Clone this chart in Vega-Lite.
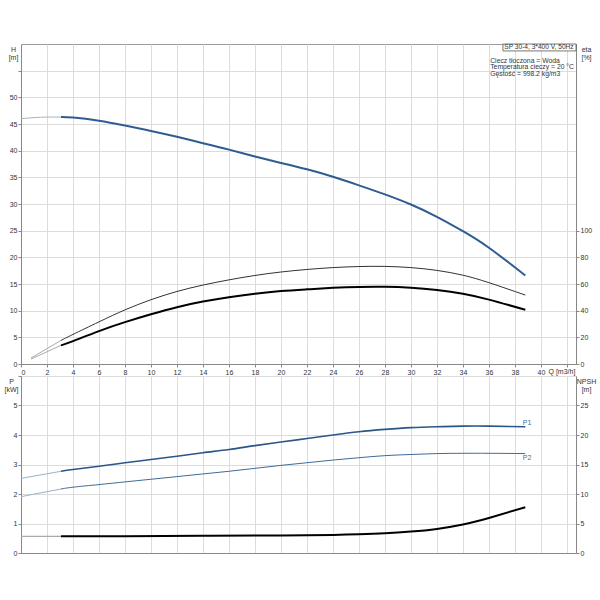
{
  "$schema": "https://vega.github.io/schema/vega-lite/v6.json",
  "padding": {"left": 3, "top": 43, "right": 2, "bottom": 2},
  "spacing": -6,
  "config": {
    "font": "Liberation Sans",
    "view": {"stroke": "#999999"},
    "axis": {
      "labelFont": "Liberation Sans", "titleFont": "Liberation Sans",
      "labelFontSize": 7, "labelColor": "#333", "tickSize": 3, "tickColor": "#888",
      "domainColor": "#888", "gridColor": "#dcdcdc", "labelPadding": 1, "labelOverlap": false,
      "titleFontSize": 7, "titleFontWeight": "normal", "titleColor": "#333", "titleLineHeight": 8
    }
  },
  "datasets": {
    "h": [
      {"q": 0, "h": 46.0, "part": "ext"}, {"q": 1, "h": 46.2, "part": "ext"}, {"q": 2, "h": 46.3, "part": "ext"}, {"q": 3.08, "h": 46.3, "part": "ext"},
      {"q": 3.08, "h": 46.3, "part": "op"}, {"q": 4, "h": 46.2, "part": "op"}, {"q": 6, "h": 45.6, "part": "op"}, {"q": 8, "h": 44.7, "part": "op"},
      {"q": 10, "h": 43.7, "part": "op"}, {"q": 12, "h": 42.6, "part": "op"}, {"q": 14, "h": 41.4, "part": "op"}, {"q": 16, "h": 40.2, "part": "op"},
      {"q": 18, "h": 38.9, "part": "op"}, {"q": 20, "h": 37.7, "part": "op"}, {"q": 22, "h": 36.5, "part": "op"}, {"q": 24, "h": 35.1, "part": "op"},
      {"q": 26, "h": 33.5, "part": "op"}, {"q": 28, "h": 31.8, "part": "op"}, {"q": 30, "h": 29.9, "part": "op"}, {"q": 32, "h": 27.6, "part": "op"},
      {"q": 34, "h": 24.9, "part": "op"}, {"q": 36, "h": 21.8, "part": "op"}, {"q": 38.8, "h": 16.6, "part": "op"}
    ],
    "eta": [
      {"q": 0.77, "eta": 4.5, "curve": "upper", "part": "ext"}, {"q": 3.08, "eta": 17.7, "curve": "upper", "part": "ext"},
      {"q": 0.77, "eta": 3.7, "curve": "lower", "part": "ext"}, {"q": 3.08, "eta": 14.0, "curve": "lower", "part": "ext"},
      {"q": 3.08, "eta": 17.7, "curve": "upper", "part": "op"}, {"q": 4, "eta": 22.2, "curve": "upper", "part": "op"},
      {"q": 6, "eta": 31.6, "curve": "upper", "part": "op"}, {"q": 8, "eta": 40.6, "curve": "upper", "part": "op"},
      {"q": 10, "eta": 48.2, "curve": "upper", "part": "op"}, {"q": 12, "eta": 54.4, "curve": "upper", "part": "op"},
      {"q": 14, "eta": 59.2, "curve": "upper", "part": "op"}, {"q": 16, "eta": 63.1, "curve": "upper", "part": "op"},
      {"q": 18, "eta": 66.4, "curve": "upper", "part": "op"}, {"q": 20, "eta": 69.0, "curve": "upper", "part": "op"},
      {"q": 22, "eta": 70.9, "curve": "upper", "part": "op"}, {"q": 24, "eta": 72.3, "curve": "upper", "part": "op"},
      {"q": 26, "eta": 73.1, "curve": "upper", "part": "op"}, {"q": 28, "eta": 73.2, "curve": "upper", "part": "op"},
      {"q": 30, "eta": 72.3, "curve": "upper", "part": "op"}, {"q": 32, "eta": 70.2, "curve": "upper", "part": "op"},
      {"q": 34, "eta": 66.6, "curve": "upper", "part": "op"}, {"q": 36, "eta": 61.0, "curve": "upper", "part": "op"},
      {"q": 38.8, "eta": 51.7, "curve": "upper", "part": "op"},
      {"q": 3.08, "eta": 14.0, "curve": "lower", "part": "op"}, {"q": 4, "eta": 17.2, "curve": "lower", "part": "op"},
      {"q": 6, "eta": 24.7, "curve": "lower", "part": "op"}, {"q": 8, "eta": 31.4, "curve": "lower", "part": "op"},
      {"q": 10, "eta": 37.3, "curve": "lower", "part": "op"}, {"q": 12, "eta": 42.6, "curve": "lower", "part": "op"},
      {"q": 14, "eta": 46.8, "curve": "lower", "part": "op"}, {"q": 16, "eta": 50.1, "curve": "lower", "part": "op"},
      {"q": 18, "eta": 52.7, "curve": "lower", "part": "op"}, {"q": 20, "eta": 54.7, "curve": "lower", "part": "op"},
      {"q": 22, "eta": 56.0, "curve": "lower", "part": "op"}, {"q": 24, "eta": 57.1, "curve": "lower", "part": "op"},
      {"q": 26, "eta": 57.8, "curve": "lower", "part": "op"}, {"q": 28, "eta": 57.9, "curve": "lower", "part": "op"},
      {"q": 30, "eta": 57.2, "curve": "lower", "part": "op"}, {"q": 32, "eta": 55.5, "curve": "lower", "part": "op"},
      {"q": 34, "eta": 52.7, "curve": "lower", "part": "op"}, {"q": 36, "eta": 48.3, "curve": "lower", "part": "op"},
      {"q": 38.8, "eta": 40.7, "curve": "lower", "part": "op"}
    ],
    "p": [
      {"q": 0, "p": 2.53, "curve": "P1", "part": "ext"}, {"q": 3.08, "p": 2.77, "curve": "P1", "part": "ext"},
      {"q": 0, "p": 1.91, "curve": "P2", "part": "ext"}, {"q": 3.08, "p": 2.17, "curve": "P2", "part": "ext"},
      {"q": 3.08, "p": 2.77, "curve": "P1", "part": "op"}, {"q": 4, "p": 2.83, "curve": "P1", "part": "op"},
      {"q": 6, "p": 2.94, "curve": "P1", "part": "op"}, {"q": 8, "p": 3.06, "curve": "P1", "part": "op"},
      {"q": 10, "p": 3.17, "curve": "P1", "part": "op"}, {"q": 12, "p": 3.28, "curve": "P1", "part": "op"},
      {"q": 14, "p": 3.40, "curve": "P1", "part": "op"}, {"q": 16, "p": 3.51, "curve": "P1", "part": "op"},
      {"q": 18, "p": 3.64, "curve": "P1", "part": "op"}, {"q": 20, "p": 3.76, "curve": "P1", "part": "op"},
      {"q": 22, "p": 3.88, "curve": "P1", "part": "op"}, {"q": 24, "p": 4.00, "curve": "P1", "part": "op"},
      {"q": 26, "p": 4.11, "curve": "P1", "part": "op"}, {"q": 28, "p": 4.19, "curve": "P1", "part": "op"},
      {"q": 30, "p": 4.25, "curve": "P1", "part": "op"}, {"q": 32, "p": 4.28, "curve": "P1", "part": "op"},
      {"q": 34, "p": 4.30, "curve": "P1", "part": "op"}, {"q": 36, "p": 4.30, "curve": "P1", "part": "op"},
      {"q": 38.8, "p": 4.28, "curve": "P1", "part": "op"},
      {"q": 3.08, "p": 2.17, "curve": "P2", "part": "op"}, {"q": 4, "p": 2.23, "curve": "P2", "part": "op"},
      {"q": 6, "p": 2.32, "curve": "P2", "part": "op"}, {"q": 8, "p": 2.41, "curve": "P2", "part": "op"},
      {"q": 10, "p": 2.50, "curve": "P2", "part": "op"}, {"q": 12, "p": 2.59, "curve": "P2", "part": "op"},
      {"q": 14, "p": 2.68, "curve": "P2", "part": "op"}, {"q": 16, "p": 2.77, "curve": "P2", "part": "op"},
      {"q": 18, "p": 2.87, "curve": "P2", "part": "op"}, {"q": 20, "p": 2.97, "curve": "P2", "part": "op"},
      {"q": 22, "p": 3.06, "curve": "P2", "part": "op"}, {"q": 24, "p": 3.15, "curve": "P2", "part": "op"},
      {"q": 26, "p": 3.23, "curve": "P2", "part": "op"}, {"q": 28, "p": 3.30, "curve": "P2", "part": "op"},
      {"q": 30, "p": 3.34, "curve": "P2", "part": "op"}, {"q": 32, "p": 3.37, "curve": "P2", "part": "op"},
      {"q": 34, "p": 3.38, "curve": "P2", "part": "op"}, {"q": 36, "p": 3.38, "curve": "P2", "part": "op"},
      {"q": 38.8, "p": 3.37, "curve": "P2", "part": "op"}
    ],
    "npsh": [
      {"q": 0, "npsh": 2.83, "part": "ext"}, {"q": 3.08, "npsh": 2.83, "part": "ext"},
      {"q": 3.08, "npsh": 2.83, "part": "op"}, {"q": 8, "npsh": 2.86, "part": "op"}, {"q": 14, "npsh": 2.91, "part": "op"},
      {"q": 20, "npsh": 2.98, "part": "op"}, {"q": 24, "npsh": 3.07, "part": "op"}, {"q": 26, "npsh": 3.17, "part": "op"},
      {"q": 28, "npsh": 3.34, "part": "op"}, {"q": 30, "npsh": 3.63, "part": "op"}, {"q": 32, "npsh": 4.08, "part": "op"},
      {"q": 34, "npsh": 4.82, "part": "op"}, {"q": 36, "npsh": 5.94, "part": "op"}, {"q": 38.8, "npsh": 7.76, "part": "op"}
    ],
    "box": [{"q": 37.08, "q2": 42.7, "h": 58.7, "h2": 60}],
    "notes": [
      {"label": "SP 30-4, 3*400 V, 50Hz", "q": 39.85, "h": 59.35, "kind": "box"},
      {"label": "Ciecz tłoczona = Woda", "q": 36.1, "h": 56.8, "kind": "info"},
      {"label": "Temperatura cieczy = 20 °C", "q": 36.1, "h": 55.6, "kind": "info"},
      {"label": "Gęstość = 998.2 kg/m3", "q": 36.1, "h": 54.4, "kind": "info"}
    ],
    "plabels": [
      {"label": "P1", "q": 38.6, "p": 4.42},
      {"label": "P2", "q": 38.6, "p": 3.22}
    ]
  },
  "vconcat": [
    {
      "width": 555,
      "height": 320,
      "encoding": {
        "x": {"field": "q", "type": "quantitative",
          "scale": {"domain": [0, 42.7], "nice": false, "zero": false},
          "axis": {"values": [0,2,4,6,8,10,12,14,16,18,20,22,24,26,28,30,32,34,36,38,40,42],
            "labelExpr": "datum.value > 40 ? '' : datum.label",
            "grid": true, "title": "Q [m3/h]", "titleAngle": 0, "titleAlign": "left",
            "titleBaseline": "middle", "titleX": 527, "titleY": 7}}
      },
      "resolve": {"scale": {"y": "independent"}},
      "layer": [
        {
          "encoding": {
            "y": {"field": "h", "type": "quantitative",
              "scale": {"domain": [0, 60], "nice": false},
              "axis": {"orient": "left", "values": [0,5,10,15,20,25,30,35,40,45,50,55],
                "labelExpr": "datum.value > 50 ? '' : datum.label",
                "grid": true, "title": ["H", "[m]"], "titleAngle": 0, "titleAlign": "center",
                "titleBaseline": "top", "titleX": -8, "titleY": 1}}
          },
          "layer": [
            {
              "data": {"name": "h"},
              "transform": [{"filter": "datum.part == 'ext'"}],
              "mark": {"type": "line", "interpolate": "natural", "color": "#a9b4c2", "strokeWidth": 1}
            },
            {
              "data": {"name": "h"},
              "transform": [{"filter": "datum.part == 'op'"}],
              "mark": {"type": "line", "interpolate": "natural", "color": "#2e5d91", "strokeWidth": 2}
            },
            {
              "data": {"name": "box"},
              "mark": {"type": "rect", "fill": "white", "stroke": "#555", "strokeWidth": 0.8},
              "encoding": {"x2": {"field": "q2"}, "y2": {"field": "h2"}}
            },
            {
              "data": {"name": "notes"},
              "transform": [{"filter": "datum.kind == 'box'"}],
              "mark": {"type": "text", "align": "center", "baseline": "middle", "fontSize": 6.6, "color": "#333", "font": "Liberation Sans"},
              "encoding": {"text": {"field": "label"}}
            },
            {
              "data": {"name": "notes"},
              "transform": [{"filter": "datum.kind == 'info'"}],
              "mark": {"type": "text", "align": "left", "baseline": "middle", "fontSize": 6.8, "color": "#333", "font": "Liberation Sans"},
              "encoding": {"text": {"field": "label"}}
            }
          ]
        },
        {
          "data": {"name": "eta"},
          "encoding": {
            "y": {"field": "eta", "type": "quantitative",
              "scale": {"domain": [0, 240], "nice": false},
              "axis": {"orient": "right", "values": [0,20,40,60,80,100], "grid": false,
                "title": ["eta", "[%]"], "titleAngle": 0, "titleAlign": "center",
                "titleBaseline": "top", "titleX": 10, "titleY": 1}}
          },
          "layer": [
            {
              "transform": [{"filter": "datum.part == 'ext'"}],
              "mark": {"type": "line", "color": "#aaaaaa", "strokeWidth": 1},
              "encoding": {"detail": {"field": "curve"}}
            },
            {
              "transform": [{"filter": "datum.part == 'op' && datum.curve == 'upper'"}],
              "mark": {"type": "line", "interpolate": "natural", "color": "#333333", "strokeWidth": 1}
            },
            {
              "transform": [{"filter": "datum.part == 'op' && datum.curve == 'lower'"}],
              "mark": {"type": "line", "interpolate": "natural", "color": "#000000", "strokeWidth": 2}
            }
          ]
        }
      ]
    },
    {
      "width": 555,
      "height": 177,
      "encoding": {
        "x": {"field": "q", "type": "quantitative",
          "scale": {"domain": [0, 42.7], "nice": false, "zero": false},
          "axis": {"values": [0,2,4,6,8,10,12,14,16,18,20,22,24,26,28,30,32,34,36,38,40,42],
            "labels": false, "ticks": false, "grid": true, "title": null}}
      },
      "resolve": {"scale": {"y": "independent"}},
      "layer": [
        {
          "encoding": {
            "y": {"field": "p", "type": "quantitative",
              "scale": {"domain": [0, 6], "nice": false},
              "axis": {"orient": "left", "values": [0,1,2,3,4,5,6],
                "labelExpr": "datum.value > 5 ? '' : datum.label",
                "grid": true, "title": ["P", "[kW]"], "titleAngle": 0, "titleAlign": "center",
                "titleBaseline": "top", "titleX": -10, "titleY": 1}}
          },
          "layer": [
            {
              "data": {"name": "p"},
              "transform": [{"filter": "datum.part == 'ext'"}],
              "mark": {"type": "line", "color": "#9fb0c4", "strokeWidth": 1},
              "encoding": {"detail": {"field": "curve"}}
            },
            {
              "data": {"name": "p"},
              "transform": [{"filter": "datum.part == 'op' && datum.curve == 'P1'"}],
              "mark": {"type": "line", "interpolate": "natural", "color": "#2a5788", "strokeWidth": 1.6}
            },
            {
              "data": {"name": "p"},
              "transform": [{"filter": "datum.part == 'op' && datum.curve == 'P2'"}],
              "mark": {"type": "line", "interpolate": "natural", "color": "#3f6b98", "strokeWidth": 1}
            },
            {
              "data": {"name": "plabels"},
              "mark": {"type": "text", "align": "left", "baseline": "middle", "fontSize": 7, "color": "#3f6b98", "font": "Liberation Sans"},
              "encoding": {"text": {"field": "label"}}
            }
          ]
        },
        {
          "data": {"name": "npsh"},
          "encoding": {
            "y": {"field": "npsh", "type": "quantitative",
              "scale": {"domain": [0, 30], "nice": false},
              "axis": {"orient": "right", "values": [0,5,10,15,20,25], "grid": false,
                "title": ["NPSH", "[m]"], "titleAngle": 0, "titleAlign": "center",
                "titleBaseline": "top", "titleX": 10, "titleY": 1}}
          },
          "layer": [
            {
              "transform": [{"filter": "datum.part == 'ext'"}],
              "mark": {"type": "line", "color": "#aaaaaa", "strokeWidth": 1.2}
            },
            {
              "transform": [{"filter": "datum.part == 'op'"}],
              "mark": {"type": "line", "interpolate": "natural", "color": "#000000", "strokeWidth": 2}
            }
          ]
        }
      ]
    }
  ]
}
